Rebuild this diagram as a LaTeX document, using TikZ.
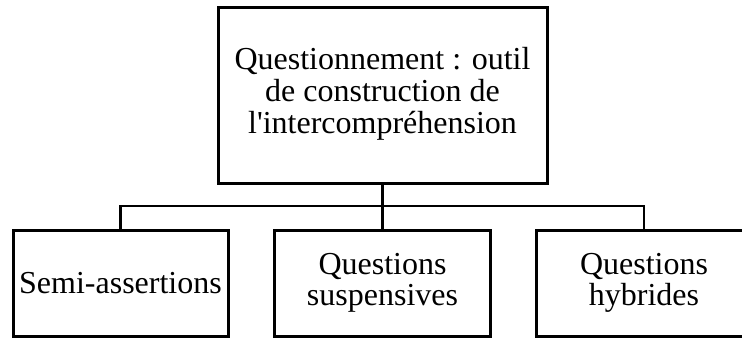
\documentclass[tikz,border=0pt]{standalone}
\usepackage{fontspec}
\setmainfont{Liberation Serif}
\begin{document}
\begin{tikzpicture}[x=1pt,y=-1pt,
  boxstyle/.style={draw=black,line width=3pt,rectangle,align=center,inner sep=0pt,
    font=\fontsize{32}{31.5}\selectfont},
  linkstyle/.style={draw=black,line width=2.2pt}]
\useasboundingbox (0,0) rectangle (742,338);
\node[boxstyle,minimum width=329pt,minimum height=176pt] (top) at (382.5,95)
  {\raisebox{-5pt}{\begin{tabular}{@{}c@{}}Questionnement : outil\\de construction de\\l\textquotesingle intercompréhension\end{tabular}}};
\node[boxstyle,minimum width=215pt,minimum height=106pt] (left) at (120.5,283) {Semi-assertions};
\node[boxstyle,minimum width=216pt,minimum height=106pt] (mid) at (382.5,283) {Questions\\suspensives};
\node[boxstyle,minimum width=216pt,minimum height=106pt] (right) at (644,283) {Questions\\hybrides};
\coordinate (bus) at (382.5,206);
\draw[linkstyle,line width=2.7pt] (top.south) -- (mid.north);
\draw[linkstyle] (left.north) |- (right.north |- bus) -- (right.north);
\end{tikzpicture}
\end{document}
